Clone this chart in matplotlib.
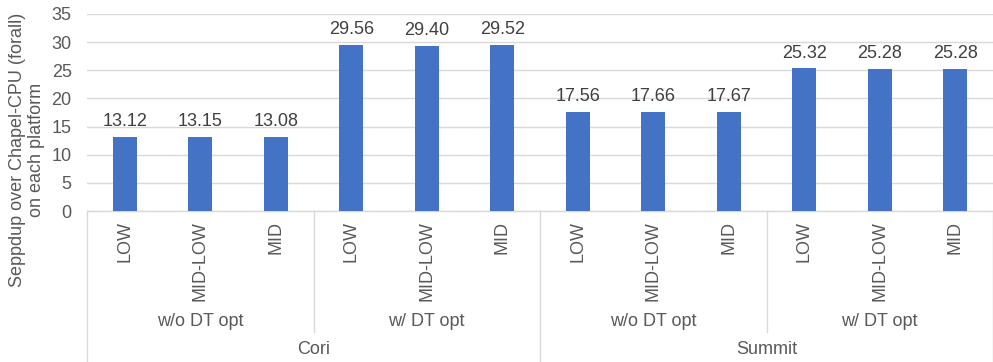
import matplotlib
matplotlib.use("Agg")
import matplotlib.pyplot as plt
from matplotlib.transforms import blended_transform_factory

plt.rcParams['font.family'] = ['Liberation Sans', 'DejaVu Sans']

levels = ["LOW", "MID-LOW", "MID"]
opt_groups = ["w/o DT opt", "w/ DT opt"]
platforms = ["Cori", "Summit"]
cori_wo = [13.12, 13.15, 13.08]
cori_w = [29.56, 29.40, 29.52]
summit_wo = [17.56, 17.66, 17.67]
summit_w = [25.32, 25.28, 25.28]
y_ticks = [0, 5, 10, 15, 20, 25, 30, 35]
y_label = "Seppdup over Chapel-CPU (forall)\non each platform"

values = cori_wo + cori_w + summit_wo + summit_w
cat_labels = levels * 4

W, H = 993, 362
fig = plt.figure(figsize=(W / 100, H / 100), dpi=100)
left_px, right_px, top_px, bot_px = 87, 993, 14, 211
ax = fig.add_axes([left_px / W, 1 - bot_px / H, (right_px - left_px) / W, (bot_px - top_px) / H])

fs = 13
txt = '#595959'
x = list(range(len(values)))
bars = ax.bar(x, values, width=0.32, color='#4472C4', zorder=3)
ax.bar_label(bars, labels=[f"{v:.2f}" for v in values], padding=5, fontsize=fs, color='#404040')

ax.set_xlim(-0.5, len(values) - 0.5)
ax.set_ylim(0, 35)
ax.set_yticks(y_ticks)
ax.yaxis.grid(True, color='#D9D9D9', linewidth=1, zorder=0)
ax.tick_params(axis='y', length=0, labelsize=fs, labelcolor=txt, pad=11)
ax.set_xticks(x)
ax.set_xticklabels(cat_labels, rotation=90, va='top', ha='center')
ax.tick_params(axis='x', length=0, labelsize=fs, labelcolor=txt, pad=7)
for s in ['top', 'right', 'left']:
    ax.spines[s].set_visible(False)
ax.spines['bottom'].set_color('#D9D9D9')
ax.spines['bottom'].set_linewidth(1)

def ypx(p):
    return (bot_px - p) / (bot_px - top_px)

tr = blended_transform_factory(ax.transData, ax.transAxes)
lc = '#D9D9D9'
# group separators
for b in [-0.5, 2.5, 5.5, 8.5, 11.5]:
    end = 362 if b in (-0.5, 5.5, 11.5) else 332
    ax.plot([b, b], [ypx(211), ypx(end)], transform=tr, color=lc, lw=1, clip_on=False)
# second-level labels
for i in range(4):
    ax.text(3 * i + 1, ypx(322), opt_groups[i % 2], transform=tr, ha='center', va='center',
            fontsize=fs, color=txt)
for i, p in enumerate(platforms):
    ax.text(6 * i + 2.5, ypx(349), p, transform=tr, ha='center', va='center',
            fontsize=fs, color=txt)

fig.text(27 / W, 1 - 150 / H, y_label, rotation=90, ha='center', va='center',
         multialignment='center', fontsize=fs, color=txt)

fig.savefig('out.png', dpi=100)
